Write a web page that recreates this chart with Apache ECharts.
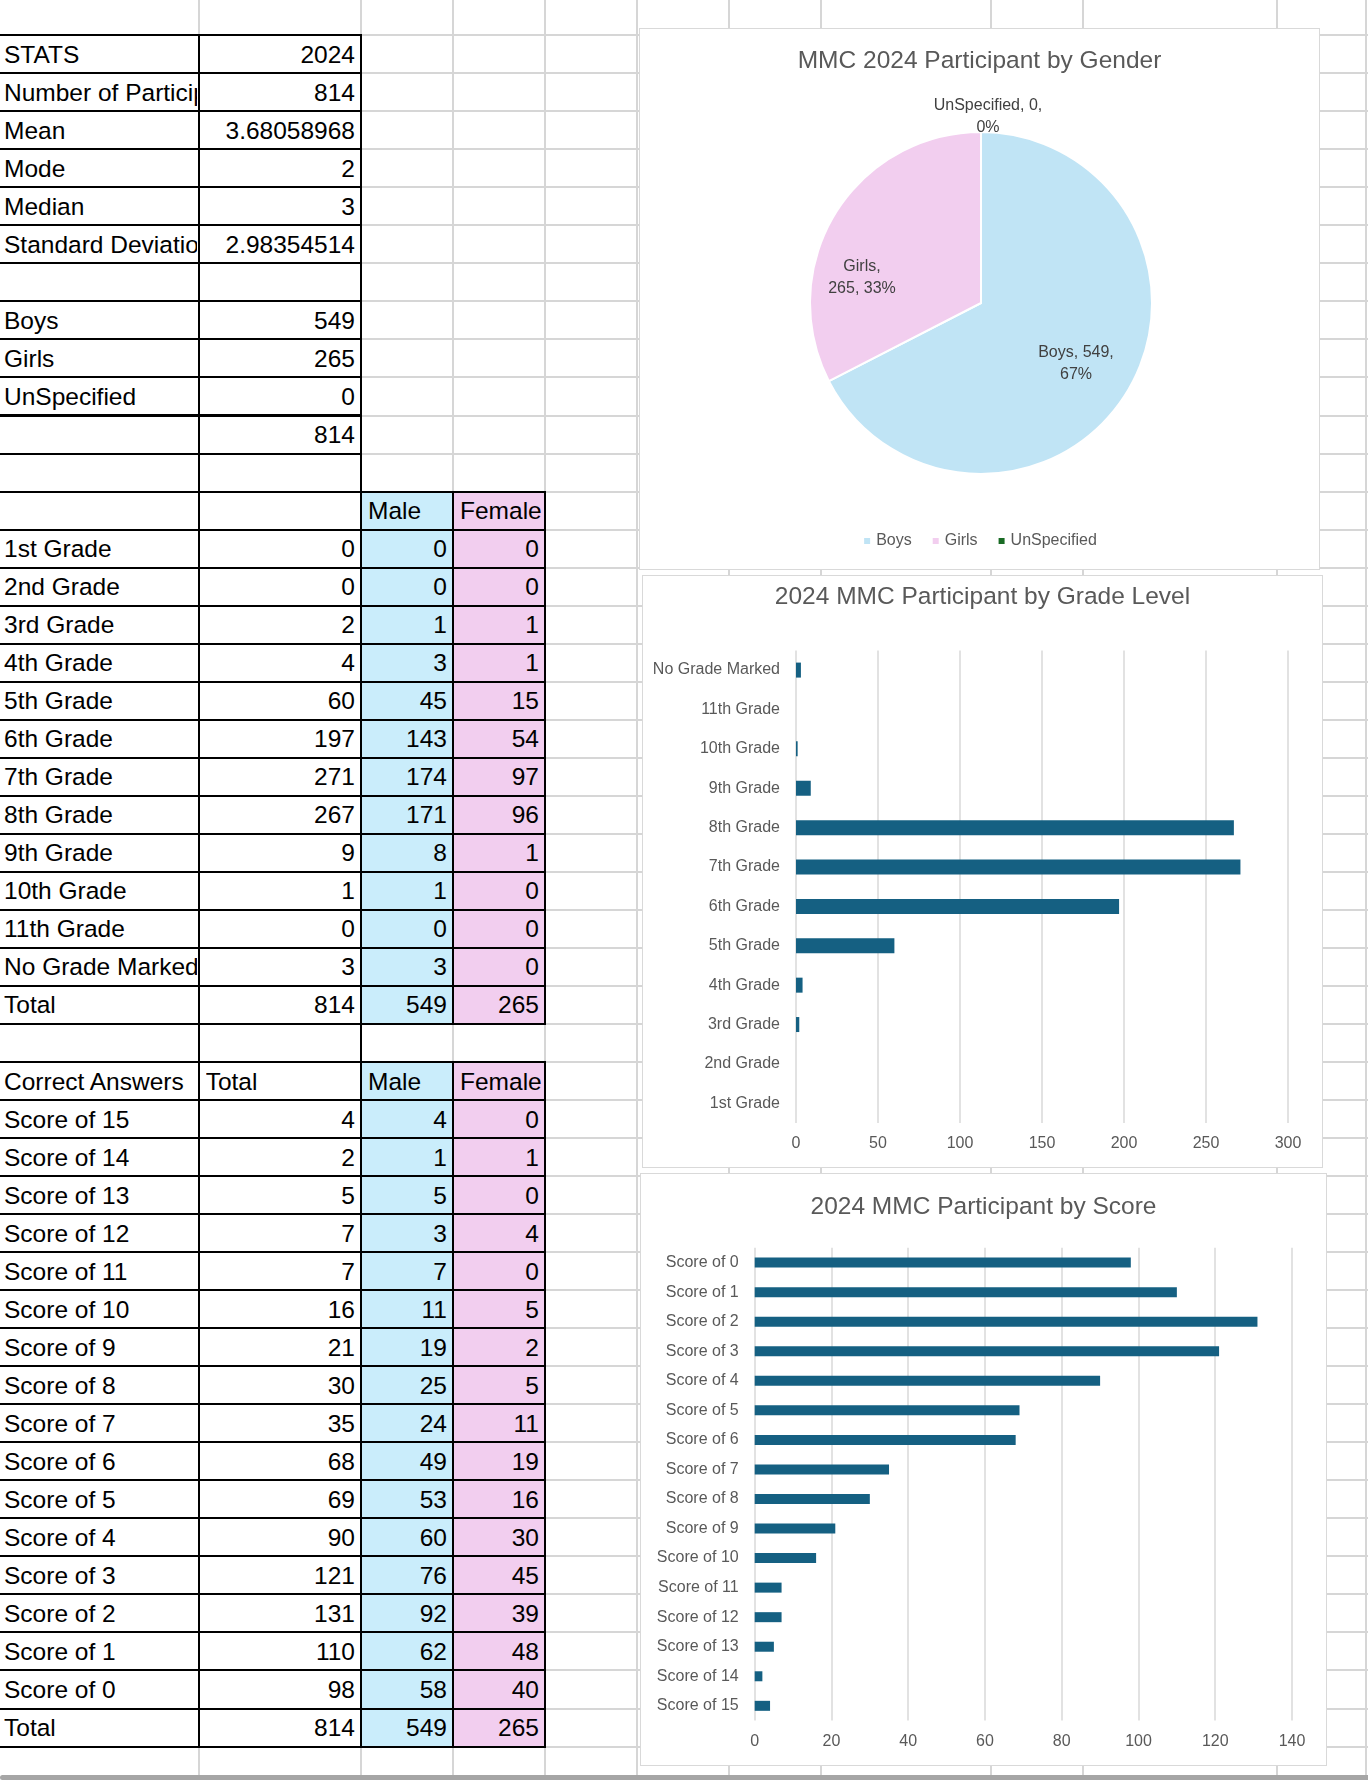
<!DOCTYPE html>
<html><head><meta charset="utf-8">
<script src="https://cdn.jsdelivr.net/npm/echarts@6/dist/echarts.min.js"></script>
<style>
html,body{margin:0;padding:0;background:#fff;}
body{width:1368px;height:1780px;position:relative;overflow:hidden;font-family:'Liberation Sans',Arial,sans-serif;}
.g{position:absolute;background:#d6d6d6;}
.f{position:absolute;}
.b{position:absolute;box-sizing:border-box;border:2px solid #000;}
.t{position:absolute;font-size:24.5px;line-height:38px;height:38px;color:#000;white-space:nowrap;overflow:hidden;}
.chart{position:absolute;background:#fff;outline:1.5px solid #d9d9d9;outline-offset:-1.5px;}
</style></head><body>
<div id="sheet"></div>
<div id="pie" class="chart" style="left:639px;top:28px;width:681px;height:542px"></div>
<div id="grade" class="chart" style="left:642px;top:575px;width:681px;height:593px"></div>
<div id="score" class="chart" style="left:640px;top:1173px;width:687px;height:593px"></div>
<script>
// ---------------- DATA ----------------
const statsLabels = ['STATS', 'Number of Participants', 'Mean', 'Mode', 'Median', 'Standard Deviation'];
const statsValues = [2024, 814, 3.68058968, 2, 3, 2.98354514];
const genderLabels = ['Boys', 'Girls', 'UnSpecified'];
const genderValues = [549, 265, 0];
const genderHeader = ['Male', 'Female'];
const gradeLabels = ['1st Grade', '2nd Grade', '3rd Grade', '4th Grade', '5th Grade', '6th Grade', '7th Grade', '8th Grade', '9th Grade', '10th Grade', '11th Grade', 'No Grade Marked'];
const gradeTotal = [0, 0, 2, 4, 60, 197, 271, 267, 9, 1, 0, 3];
const gradeMale = [0, 0, 1, 3, 45, 143, 174, 171, 8, 1, 0, 3];
const gradeFemale = [0, 0, 1, 1, 15, 54, 97, 96, 1, 0, 0, 0];
const scoreHeader = ['Correct Answers', 'Total', 'Male', 'Female'];
const scoreLabels = ['Score of 15', 'Score of 14', 'Score of 13', 'Score of 12', 'Score of 11', 'Score of 10', 'Score of 9', 'Score of 8', 'Score of 7', 'Score of 6', 'Score of 5', 'Score of 4', 'Score of 3', 'Score of 2', 'Score of 1', 'Score of 0'];
const scoreTotal = [4, 2, 5, 7, 7, 16, 21, 30, 35, 68, 69, 90, 121, 131, 110, 98];
const scoreMale = [4, 1, 5, 3, 7, 11, 19, 25, 24, 49, 53, 60, 76, 92, 62, 58];
const scoreFemale = [0, 1, 0, 4, 0, 5, 2, 5, 11, 19, 16, 30, 45, 39, 48, 40];
const gradeTicks = [0, 50, 100, 150, 200, 250, 300];
const scoreTicks = [0, 20, 40, 60, 80, 100, 120, 140];

// ---------------- SHEET LAYOUT ----------------
const sum = a => a.reduce((s, v) => s + v, 0);
const COLX = [-10, 198.7, 361, 453, 545];
const GRIDX = [198.7, 361, 453, 545, 637, 729, 821, 991, 1083, 1277, 1366];
const ROW0 = 35.2, RH = 38.03;
const ry = k => ROW0 + RH * k;
const sheet = document.getElementById('sheet');
function add(cls, l, t, w, h, extra) {
  const d = document.createElement('div');
  d.className = cls;
  d.style.left = l + 'px'; d.style.top = t + 'px';
  d.style.width = w + 'px'; d.style.height = h + 'px';
  if (extra) Object.assign(d.style, extra);
  sheet.appendChild(d);
  return d;
}
GRIDX.forEach(x => add('g', x - 1, 0, 2, 1776));
for (let k = -1; k <= 45; k++) add('g', 0, ry(k) - 1, 1368, 2);

const rows = [];
statsLabels.forEach((l, i) => rows.push({ cells: [l, statsValues[i]], span: 2 }));
rows.push({ cells: ['', ''], span: 2 });
genderLabels.forEach((l, i) => rows.push({ cells: [l, genderValues[i]], span: 2 }));
rows.push({ cells: ['', sum(genderValues)], span: 2 });
rows.push({ cells: ['', ''], span: 2 });
rows.push({ cells: ['', '', genderHeader[0], genderHeader[1]], span: 4, fill: true });
gradeLabels.forEach((l, i) => rows.push({ cells: [l, gradeTotal[i], gradeMale[i], gradeFemale[i]], span: 4, fill: true }));
rows.push({ cells: ['Total', sum(gradeTotal), sum(gradeMale), sum(gradeFemale)], span: 4, fill: true });
rows.push({ cells: ['', ''], span: 2 });
rows.push({ cells: scoreHeader.slice(), span: 4, fill: true });
scoreLabels.forEach((l, i) => rows.push({ cells: [l, scoreTotal[i], scoreMale[i], scoreFemale[i]], span: 4, fill: true }));
rows.push({ cells: ['Total', sum(scoreTotal), sum(scoreMale), sum(scoreFemale)], span: 4, fill: true });

const FILLS = [null, null, '#CAEDFB', '#F2CEEF'];
rows.forEach((row, r) => {
  const y0 = ry(r), y1 = ry(r + 1);
  for (let c = 0; c < row.span; c++) {
    const x0 = COLX[c], x1 = COLX[c + 1];
    if (row.fill && FILLS[c]) add('f', x0, y0, x1 - x0, y1 - y0, { background: FILLS[c] });
  }
});
rows.forEach((row, r) => {
  const y0 = ry(r), y1 = ry(r + 1);
  for (let c = 0; c < row.span; c++) {
    const x0 = COLX[c], x1 = COLX[c + 1];
    add('b', x0 - 1, y0 - 1, x1 - x0 + 2, y1 - y0 + 2);
  }
});
rows.forEach((row, r) => {
  const y0 = ry(r) + 0.5;
  row.cells.forEach((v, c) => {
    if (v === '') return;
    const x0 = COLX[c], x1 = COLX[c + 1];
    const isNum = typeof v === 'number';
    const left = c === 0 ? 4 : x0 + (isNum ? 2 : 7);
    const width = x1 - left - (isNum ? 6 : 2);
    const d = add('t', left, y0, width, 38, { textAlign: isNum ? 'right' : 'left' });
    d.textContent = String(v);
  });
});
add('f', 0, 1775, 1368, 5, { background: '#a6a6a6', borderRadius: '3px 0 0 3px' });

// ---------------- CHARTS ----------------
const FONT = "'Liberation Sans', Arial, sans-serif";
const TXT = '#595959';
const BAR = '#156082';

// Pie
const pieColors = ['#C0E4F5', '#F2CEEF', '#196B24'];
const pieLabelFmt = ['{b}, {c},\n{d}%', '{b},\n{c}, {d}%', '{b}, {c},\n{d}%'];
const pieLabelPos = [[437, 336], [223, 250], [349, 89]];
const pie = echarts.init(document.getElementById('pie'), null, { renderer: 'canvas' });
pie.setOption({
  animation: false,
  color: pieColors,
  textStyle: { fontFamily: FONT },
  title: { text: 'MMC 2024 Participant by Gender', left: 'center', top: 16,
    textStyle: { fontFamily: FONT, fontSize: 24.5, fontWeight: 'normal', color: TXT } },
  legend: { bottom: 16, left: 'center', icon: 'rect', itemWidth: 8, itemHeight: 8, itemGap: 19,
    textStyle: { fontFamily: FONT, fontSize: 16, color: TXT },
    data: genderLabels },
  series: [{
    type: 'pie', center: [342, 275], radius: 171, startAngle: 90, clockwise: true,
    percentPrecision: 0, avoidLabelOverlap: false,
    itemStyle: { borderColor: '#fff', borderWidth: 2 },
    label: { show: true, position: 'inside', fontFamily: FONT, fontSize: 16, lineHeight: 22, color: '#404040',
      formatter: p => pieLabelFmt[p.dataIndex].replace('{b}', p.name).replace('{c}', p.value).replace('{d}', Math.round(p.percent)) },
    labelLine: { show: false },
    labelLayout: p => ({ x: pieLabelPos[p.dataIndex][0], y: pieLabelPos[p.dataIndex][1], align: 'center', verticalAlign: 'middle' }),
    emphasis: { disabled: true },
    data: genderLabels.map((n, i) => ({ name: n, value: genderValues[i] }))
  }]
});

function barOption(title, titleTop, cats, vals, ticks, grid, barWidth) {
  const step = ticks[1] - ticks[0];
  return {
    animation: false,
    textStyle: { fontFamily: FONT },
    title: { text: title, left: 'center', top: titleTop,
      textStyle: { fontFamily: FONT, fontSize: 24.5, fontWeight: 'normal', color: TXT } },
    grid: grid,
    xAxis: { type: 'value', min: ticks[0], max: ticks[ticks.length - 1], interval: step,
      axisLine: { show: false }, axisTick: { show: false },
      axisLabel: { fontFamily: FONT, fontSize: 16, color: TXT, margin: 13 },
      splitLine: { show: true, showMinLine: true, showMaxLine: true, lineStyle: { color: '#d9d9d9', width: 1.5 } } },
    yAxis: { type: 'category', data: cats,
      axisLine: { show: false }, axisTick: { show: false },
      axisLabel: { fontFamily: FONT, fontSize: 16, color: TXT, margin: 16 } },
    series: [{ type: 'bar', data: vals, barWidth: barWidth, itemStyle: { color: BAR }, emphasis: { disabled: true } }]
  };
}
const grade = echarts.init(document.getElementById('grade'));
grade.setOption(barOption('2024 MMC Participant by Grade Level', 5, gradeLabels, gradeTotal, gradeTicks,
  { left: 154, right: 35, top: 75.4, bottom: 45 }, 15));
const score = echarts.init(document.getElementById('score'));
score.setOption(barOption('2024 MMC Participant by Score', 17, scoreLabels, scoreTotal, scoreTicks,
  { left: 114.7, right: 35, top: 74.8, bottom: 45.4 }, 10));
</script>
</body></html>
